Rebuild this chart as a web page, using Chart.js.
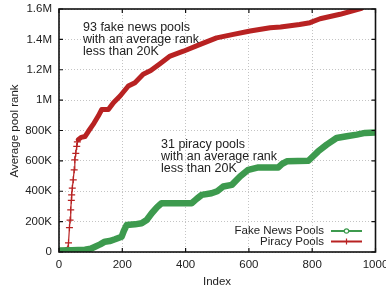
<!DOCTYPE html>
<html>
<head>
<meta charset="utf-8">
<script src="https://cdn.jsdelivr.net/npm/chart.js@4.4.1/dist/chart.umd.min.js"></script>
<style>
html, body { margin: 0; padding: 0; background: #fff; }
</style>
</head>
<body>
<canvas id="rankchart" width="386" height="290"></canvas>
<script>
// values (index, average rank)
const piracyIndex = [0, 10, 20, 28, 30, 33, 35, 37, 39, 40, 42, 45, 48, 50, 53, 56, 58, 61, 70, 82, 93, 108, 124, 135, 156, 172, 193, 219, 240, 266, 290, 319, 351, 393, 446, 498, 551, 604, 667, 700, 760, 793, 825, 888, 956];
const piracyRank = [10000, 10000, 12000, 20000, 60000, 160000, 210000, 277000, 340000, 376000, 420000, 475000, 541000, 607000, 650000, 695000, 725000, 740000, 755000, 760000, 795000, 840000, 895000, 938000, 938000, 983000, 1027000, 1093000, 1115000, 1170000, 1195000, 1240000, 1290000, 1322000, 1367000, 1410000, 1433000, 1455000, 1477000, 1482000, 1498000, 1510000, 1536000, 1565000, 1605000];

const fakeIndex = [0, 40, 82, 100, 114, 130, 145, 160, 177, 198, 205, 214, 240, 261, 277, 293, 310, 324, 419, 435, 451, 482, 500, 519, 546, 572, 598, 630, 693, 705, 720, 788, 819, 846, 877, 909, 941, 967, 1000];
const fakeRank = [10000, 12000, 15000, 22000, 35000, 50000, 68000, 72000, 84000, 101000, 140000, 178000, 182000, 189000, 211000, 255000, 295000, 321000, 321000, 350000, 376000, 387000, 400000, 431000, 442000, 497000, 541000, 557000, 557000, 580000, 597000, 601000, 663000, 707000, 751000, 762000, 773000, 784000, 787000];

const xTicks = [0, 200, 400, 600, 800, 1000];
const yTicks = [0, 200000, 400000, 600000, 800000, 1000000, 1200000, 1400000, 1600000];
const yTickLabels = ['0', '200K', '400K', '600K', '800K', '1M', '1.2M', '1.4M', '1.6M'];

const GREEN = '#3d9a4e';
const RED = '#b82222';
const FONT = 'Liberation Sans';

function toPoints(xs, ys) {
    return xs.map((x, i) => ({ x: x, y: ys[i] }));
}

// frame, inward ticks, axis titles, notes and the legend (drawn inside the plot like gnuplot does)
const decorations = {
    id: 'decorations',
    afterDraw(chart) {
        const c = chart.ctx;
        const a = chart.chartArea;
        const xs = chart.scales.x, ys = chart.scales.y;
        c.save();
        c.strokeStyle = '#111';
        c.lineWidth = 1.2;
        xTicks.forEach(t => {
            const px = xs.getPixelForValue(t);
            c.beginPath();
            c.moveTo(px, a.bottom); c.lineTo(px, a.bottom - 4);
            c.moveTo(px, a.top); c.lineTo(px, a.top + 4);
            c.stroke();
        });
        yTicks.forEach(t => {
            const py = ys.getPixelForValue(t);
            c.beginPath();
            c.moveTo(a.left, py); c.lineTo(a.left + 4, py);
            c.moveTo(a.right, py); c.lineTo(a.right - 4, py);
            c.stroke();
        });
        c.lineWidth = 1.6;
        c.strokeRect(a.left, a.top, a.right - a.left, a.bottom - a.top);

        c.fillStyle = '#222';
        c.font = '11.5px "' + FONT + '"';
        c.textBaseline = 'middle';
        c.textAlign = 'center';
        c.fillText('Index', 217, 282);
        c.save();
        c.translate(15, 131);
        c.rotate(-Math.PI / 2);
        c.fillText('Average pool rank', 0, 0);
        c.restore();

        c.font = '12.5px "' + FONT + '"';
        c.textAlign = 'left';
        ['93 fake news pools', 'with an average rank', 'less than 20K'].forEach((s, i) => {
            c.fillText(s, 83, 28 + i * 12);
        });
        ['31 piracy pools', 'with an average rank', 'less than 20K'].forEach((s, i) => {
            c.fillText(s, 161, 145 + i * 12);
        });

        // legend
        c.font = '11.5px "' + FONT + '"';
        c.textAlign = 'right';
        c.fillText('Fake News Pools', 324, 231);
        c.fillText('Piracy Pools', 324, 241.5);
        c.lineWidth = 2;
        c.strokeStyle = GREEN;
        c.beginPath(); c.moveTo(331, 231); c.lineTo(362, 231); c.stroke();
        c.lineWidth = 1.2;
        c.beginPath(); c.arc(346.5, 231, 2.2, 0, Math.PI * 2); c.fillStyle = '#fff'; c.fill(); c.stroke();
        c.strokeStyle = RED;
        c.lineWidth = 2;
        c.beginPath(); c.moveTo(331, 241.5); c.lineTo(362, 241.5); c.stroke();
        c.lineWidth = 1.2;
        c.beginPath(); c.moveTo(346.5, 238.5); c.lineTo(346.5, 244.5); c.stroke();
        c.restore();
    }
};

const ctx = document.getElementById('rankchart');

new Chart(ctx, {
    type: 'line',
    data: {
        datasets: [
            {
                label: 'Fake News Pools',
                data: toPoints(fakeIndex, fakeRank),
                borderColor: GREEN,
                backgroundColor: GREEN,
                borderWidth: 6.5,
                pointRadius: 0,
                tension: 0,
                borderJoinStyle: 'round',
                borderCapStyle: 'round'
            },
            {
                label: 'Piracy Pools',
                data: toPoints(piracyIndex, piracyRank),
                borderColor: RED,
                backgroundColor: RED,
                borderWidth: 5,
                tension: 0,
                borderJoinStyle: 'round',
                borderCapStyle: 'round',
                pointStyle: 'cross',
                pointBorderWidth: 1.2,
                pointRadius: function(c) {
                    const x = piracyIndex[c.dataIndex];
                    return (x >= 28 && x <= 58) ? 3.5 : 0;
                },
                segment: {
                    borderWidth: function(s) {
                        return (s.p0.parsed.x >= 28 && s.p1.parsed.x <= 61) ? 1.2 : 5;
                    }
                }
            }
        ]
    },
    options: {
        responsive: false,
        animation: false,
        layout: { padding: { top: 9, right: 10.5, left: 0, bottom: 0 } },
        plugins: {
            legend: { display: false },
            tooltip: { enabled: false }
        },
        scales: {
            x: {
                type: 'linear',
                min: 0,
                max: 1000,
                afterBuildTicks: function(scale) {
                    scale.ticks = xTicks.map(v => ({ value: v }));
                },
                afterFit: function(scale) {
                    scale.height = 38;
                    scale.paddingLeft = 0;
                    scale.paddingRight = 0;
                },
                ticks: {
                    maxRotation: 0,
                    autoSkip: false,
                    padding: 6,
                    color: '#222',
                    font: { family: FONT, size: 11.5 },
                    callback: function(v) { return String(v); }
                },
                grid: { color: '#c4c4c4', lineWidth: 1, drawTicks: false },
                border: { display: false, dash: [1, 2] }
            },
            y: {
                min: 0,
                max: 1600000,
                afterBuildTicks: function(scale) {
                    scale.ticks = yTicks.map(v => ({ value: v }));
                },
                afterFit: function(scale) {
                    scale.width = 59;
                    scale.paddingTop = 0;
                    scale.paddingBottom = 0;
                },
                ticks: {
                    autoSkip: false,
                    padding: 7,
                    color: '#222',
                    font: { family: FONT, size: 11.5 },
                    callback: function(v) {
                        const i = yTicks.indexOf(v);
                        return i >= 0 ? yTickLabels[i] : '';
                    }
                },
                grid: { color: '#c4c4c4', lineWidth: 1, drawTicks: false },
                border: { display: false, dash: [1, 2] }
            }
        }
    },
    plugins: [decorations]
});
</script>
</body>
</html>
